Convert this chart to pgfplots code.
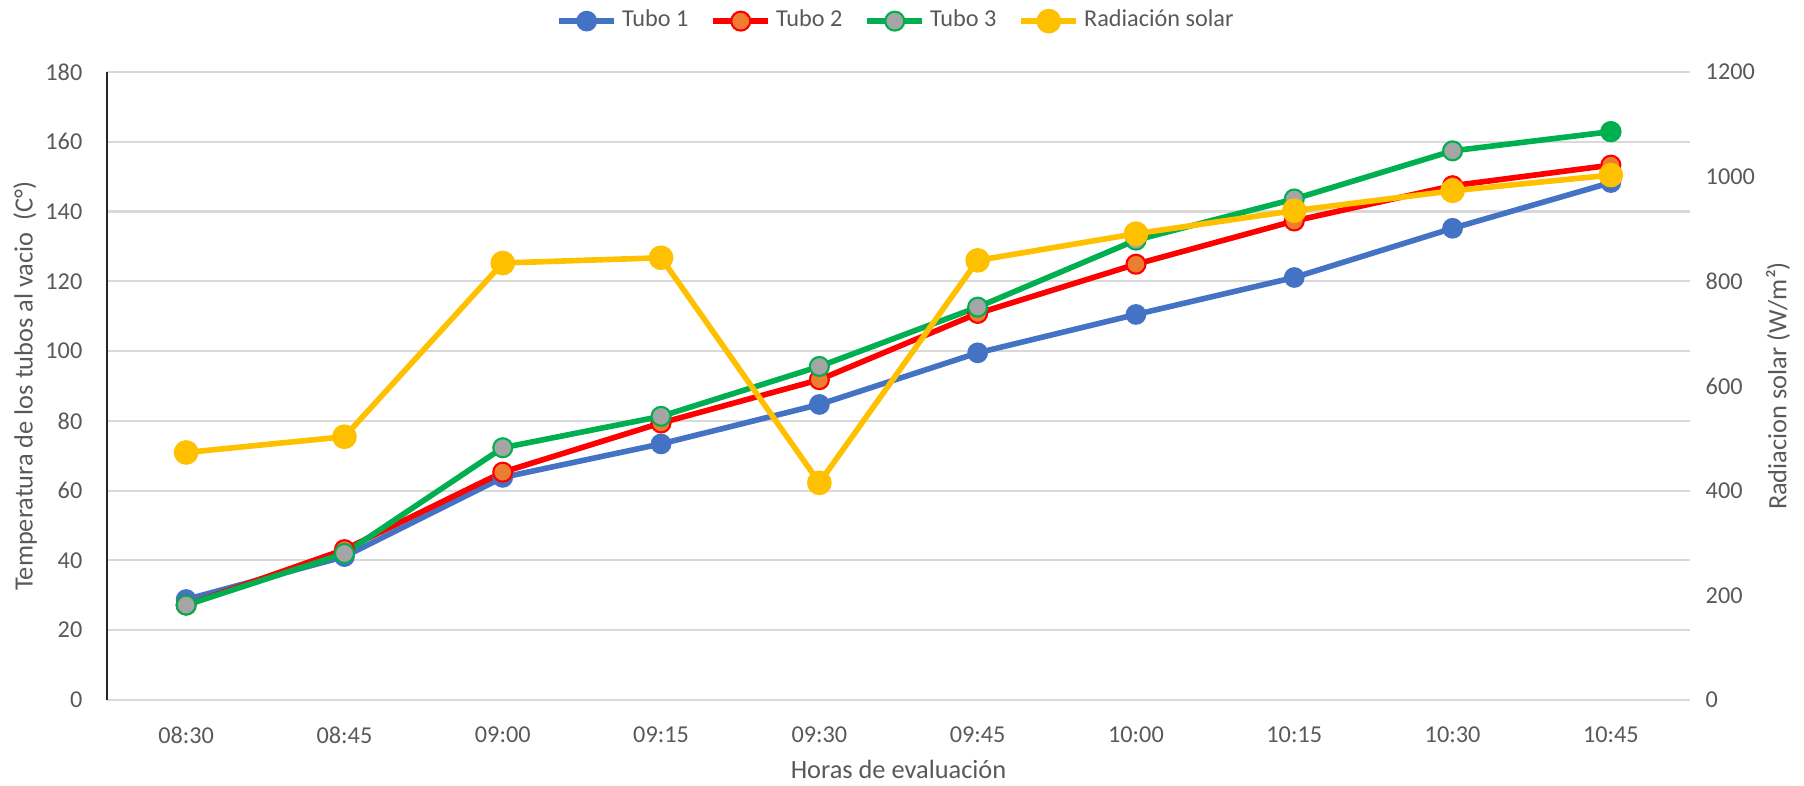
\documentclass[border=0pt]{standalone}
\usepackage{fontspec}
\setmainfont{Carlito}
\usepackage{pgfplots}
\pgfplotsset{compat=1.18}

\definecolor{tblue}{HTML}{4472C4}
\definecolor{tred}{HTML}{FF0000}
\definecolor{torange}{HTML}{ED7D31}
\definecolor{tgreen}{HTML}{00B050}
\definecolor{tgray}{HTML}{A5A5A5}
\definecolor{tyellow}{HTML}{FFC000}
\definecolor{txt}{HTML}{595959}
\definecolor{gridc}{HTML}{D9D9D9}

\pgfplotsset{
  base/.style={
    scale only axis,
    width=158.3mm, height=62.8mm,
    xmin=-0.5, xmax=9.5,
    major tick length=0pt,
    /pgf/number format/assume math mode=true,
    /pgf/number format/1000 sep={},
    tick label style={font=\fontsize{6.9}{8}\selectfont, text=txt, inner sep=0pt},
    label style={font=\fontsize{7.5}{9}\selectfont, text=txt},
  },
  serie/.style={line width=1.6pt, mark=*, mark size=2.7pt},
  legend image code/.code={
    \draw[mark repeat=2,mark phase=2] plot coordinates {(0mm,0mm)(2.75mm,0mm)(5.5mm,0mm)};
  },
}

\begin{document}
\begin{tikzpicture}
\useasboundingbox (-10.7mm,-8.6mm) rectangle (169.7mm,70mm);

% temperatura de los tubos (eje izquierdo)
\begin{axis}[
  base,
  ymin=0, ymax=180,
  ytick={0,20,...,180},
  xtick={0,...,9},
  xticklabels={08:30,08:45,09:00,09:15,09:30,09:45,10:00,10:15,10:30,10:45},
  xticklabel style={anchor=center, yshift=-3.5mm},
  yticklabel style={anchor=east, xshift=-2.4mm},
  axis y line*=left,
  axis x line*=bottom,
  x axis line style={draw=none},
  y axis line style={draw=black!85, line width=0.5pt},
  ymajorgrids,
  grid style={draw=gridc, line width=0.6pt},
  xlabel={Horas de evaluación},
  ylabel={Temperatura de los tubos al vacio~~(C°)},
  xlabel style={at={(axis description cs:0.5,-0.1099)}, anchor=center},
  ylabel style={at={(axis description cs:-0.0518,0.5)}, anchor=center},
  legend style={
    at={(axis description cs:0.5,1.081)}, anchor=center,
    draw=none, fill=none,
    legend columns=-1,
    font=\fontsize{6.9}{8}\selectfont, text=txt,
    /tikz/every odd column/.append style={column sep=-0.2mm},
    /tikz/every even column/.append style={column sep=1.5mm},
  },
]
\addplot[serie, tblue, mark options={fill=tblue, draw=tblue, line width=0.5pt}]
  coordinates {(0,28.8) (1,41.1) (2,63.8) (3,73.4) (4,84.7)
               (5,99.5) (6,110.5) (7,121.1) (8,135.2) (9,148.3)};
\addlegendentry{Tubo 1}

\addplot[serie, tred, mark options={fill=torange, draw=tred, line width=0.6pt}]
  coordinates {(0,27.2) (1,43.1) (2,65.3) (3,79.4) (4,91.8)
               (5,110.8) (6,124.9) (7,137.3) (8,147.4) (9,153.3)};
\addlegendentry{Tubo 2}

\addplot[serie, tgreen, mark options={fill=tgray, draw=tgreen, line width=0.6pt}]
  coordinates {(0,27.2) (1,42.0) (2,72.3) (3,81.3) (4,95.6)
               (5,112.6) (6,131.8) (7,143.6) (8,157.4) (9,162.9)};
\addlegendentry{Tubo 3}

% ultimo punto del tubo 3, relleno verde
\addplot[forget plot, only marks, mark=*, mark size=2.7pt,
  mark options={fill=tgreen, draw=tgreen, line width=0.6pt}]
  coordinates {(9,162.9)};

\addlegendimage{serie, tyellow, mark options={fill=tyellow, draw=tyellow}}
\addlegendentry{Radiación solar}
\end{axis}

% radiacion solar (eje derecho)
\begin{axis}[
  base,
  ymin=0, ymax=1200,
  ytick={0,200,...,1200},
  axis y line*=right,
  axis x line=none,
  y axis line style={draw=none},
  yticklabel style={anchor=west, xshift=1.5mm},
  ylabel={Radiacion solar (W/m²)},
  ylabel style={at={(axis description cs:1.0556,0.5)}, anchor=center},
]
\addplot[serie, tyellow, mark options={fill=tyellow, draw=tyellow}]
  coordinates {(0,473) (1,503) (2,835) (3,845) (4,415)
               (5,840) (6,891) (7,935) (8,973) (9,1003)};
\end{axis}
\end{tikzpicture}
\end{document}
